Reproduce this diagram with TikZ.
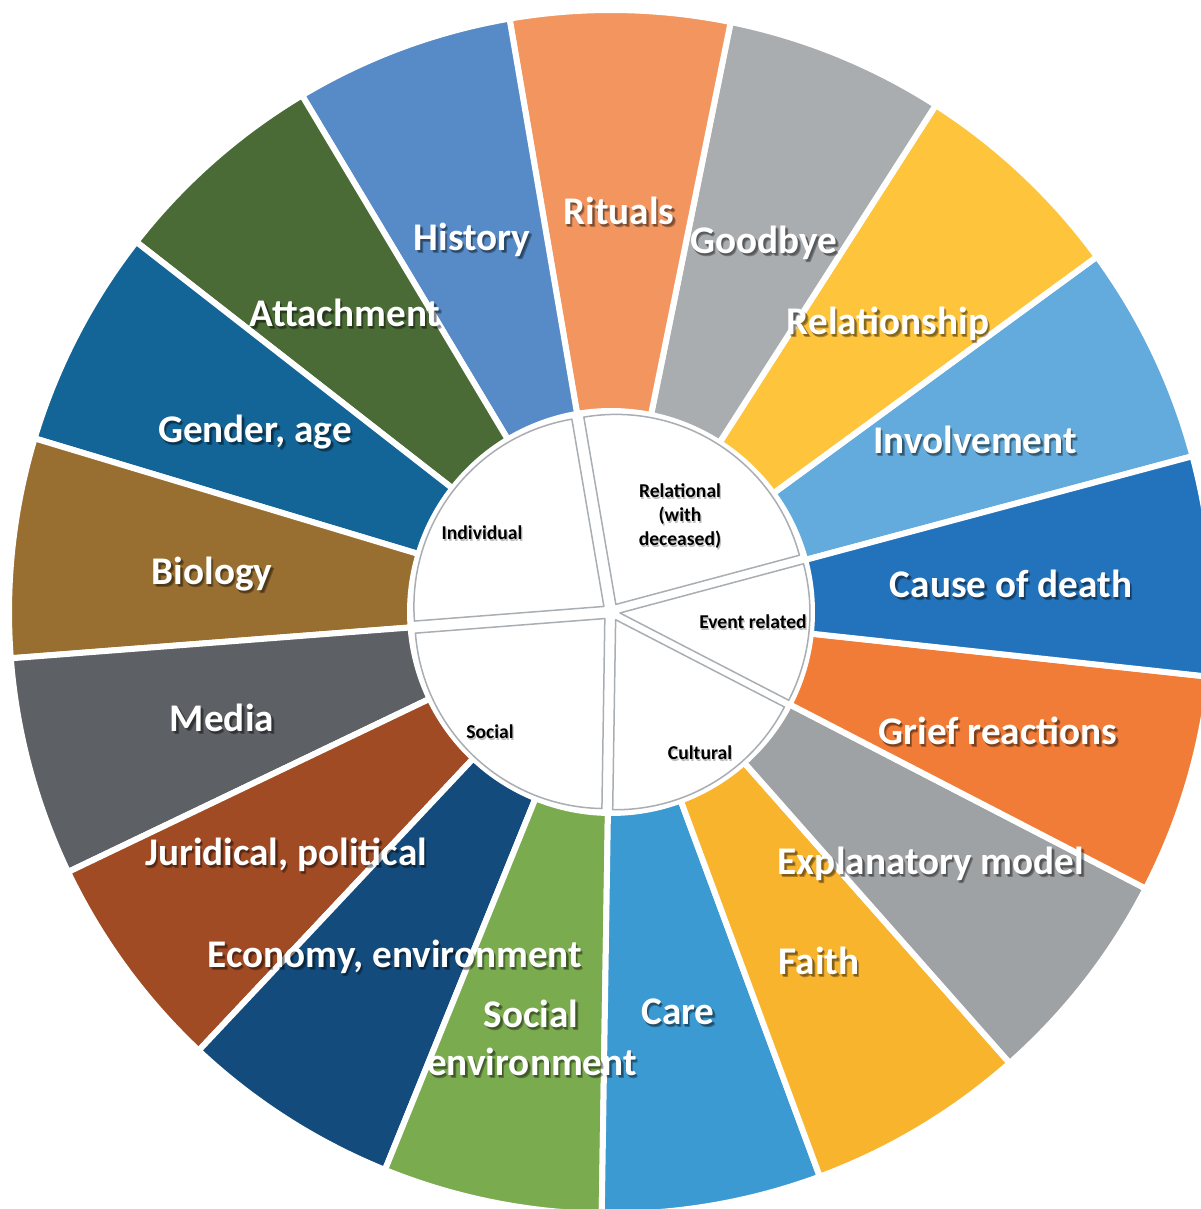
\documentclass[tikz,border=0pt]{standalone}
\usepackage{fontspec}
\setmainfont{Carlito}
\definecolor{cInv}{HTML}{63ABDC}
\definecolor{cRel}{HTML}{FEC43C}
\definecolor{cGood}{HTML}{A9ADB0}
\definecolor{cRit}{HTML}{F2955F}
\definecolor{cHist}{HTML}{568BC7}
\definecolor{cAtt}{HTML}{4A6A36}
\definecolor{cGen}{HTML}{136497}
\definecolor{cBio}{HTML}{986F30}
\definecolor{cMed}{HTML}{5D6165}
\definecolor{cJur}{HTML}{A04B24}
\definecolor{cEco}{HTML}{134B7C}
\definecolor{cSoc}{HTML}{7AAB4F}
\definecolor{cCare}{HTML}{3C9AD2}
\definecolor{cFaith}{HTML}{F9B42E}
\definecolor{cExp}{HTML}{9FA2A5}
\definecolor{cGrief}{HTML}{F17C37}
\definecolor{cCause}{HTML}{2373BC}
\definecolor{cRim}{HTML}{A9AEB3}
\newcommand\shd[1]{\leavevmode\rlap{\kern1.2pt\raisebox{-1.2pt}{\pgfsetfillopacity{0.3}\textcolor{black}{#1}\pgfsetfillopacity{1}}}\rlap{\kern0.7pt\raisebox{-0.7pt}{\pgfsetfillopacity{0.25}\textcolor{black}{#1}\pgfsetfillopacity{1}}}#1}
\newcommand\shdi[1]{\leavevmode\rlap{\kern0.6pt\raisebox{-0.6pt}{\textcolor{black!25}{#1}}}#1}
\tikzset{
  seglabel/.style={anchor=base, text=white, inner sep=0pt, font=\bfseries\fontsize{19.6}{24}\selectfont},
  inlabel/.style={anchor=base, text=black, inner sep=0pt, font=\bfseries\fontsize{9.8}{12}\selectfont},
  seg/.style={draw=white, line width=3pt, line join=miter},
  insec/.style={fill=white, draw=cRim, line width=0.75pt, line join=round}
}
\begin{document}
\begin{tikzpicture}[x=0.5pt,y=0.5pt]
\useasboundingbox (0,0) rectangle (1200,1209);
\begin{scope}[shift={(611,597)}]
\foreach \k/\col in {0/cInv,1/cRel,2/cGood,3/cRit,4/cHist,5/cAtt,6/cGen,7/cBio,8/cMed,9/cJur,10/cEco,11/cSoc,12/cCare,13/cFaith,14/cExp,15/cGrief,16/cCause}{
  \pgfmathsetmacro\a{15+\k*360/17}
  \pgfmathsetmacro\b{\a+360/17}
  \path[seg, fill=\col] (\a:201) -- (\a:602) arc[start angle=\a, end angle=\b, radius=602] -- (\b:201) arc[start angle=\b, end angle=\a, radius=201] -- cycle;
}
\foreach \a/\b in {15/99.706, 99.706/184.412, 184.412/269.118, 269.118/332.647, 332.647/375}{
  \pgfmathsetmacro\m{(\a+\b)/2}
  \path[insec] (\m:9) -- ++(\a:190) arc[start angle=\a, end angle=\b, radius=190] -- cycle;
}
\end{scope}
% outer labels (x, 1209 - baseline)
\node[seglabel] (lHist) at (472, 1209-251) {\shd{History}};
\node[seglabel] (lRit) at (619, 1209-225) {\shd{Rituals}};
\node[seglabel] (lGood) at (764, 1209-254) {\shd{Goodbye}};
\node[seglabel] (lRel) at (888, 1209-335) {\shd{Relationship}};
\node[seglabel] (lAtt) at (345, 1209-327) {\shd{Attachment}};
\node[seglabel] (lInv) at (975, 1209-454) {\shd{Involvement}};
\node[seglabel] (lGen) at (255, 1209-443) {\shd{Gender, age}};
\node[seglabel] (lCause) at (1011, 1209-598) {\shd{Cause of death}};
\node[seglabel] (lBio) at (212, 1209-585) {\shd{Biology}};
\node[seglabel] (lGrief) at (998, 1209-745) {\shd{Grief reactions}};
\node[seglabel] (lMed) at (222, 1209-732) {\shd{Media}};
\node[seglabel] (lExp) at (931, 1209-875) {\shd{Explanatory model}};
\node[seglabel] (lJur) at (286, 1209-866) {\shd{Juridical, political}};
\node[seglabel] (lFaith) at (819, 1209-975) {\shd{Faith}};
\node[seglabel] (lEco) at (395, 1209-968) {\shd{Economy, environment}};
\node[seglabel] (lCare) at (678, 1209-1025) {\shd{Care}};
\node[seglabel] (lSocA) at (531, 1209-1028) {\shd{Social}};
\node[seglabel] (lSocB) at (532, 1209-1076) {\shd{environment}};
% inner labels
\node[inlabel] (iInd) at (482, 1209-540) {\shdi{Individual}};
\node[inlabel] (iRelA) at (680, 1209-498) {\shdi{Relational}};
\node[inlabel] (iRelB) at (680, 1209-522) {\shdi{(with}};
\node[inlabel] (iRelC) at (680, 1209-546) {\shdi{deceased)}};
\node[inlabel] (iEvt) at (753, 1209-629) {\shdi{Event related}};
\node[inlabel] (iSoc) at (490, 1209-739) {\shdi{Social}};
\node[inlabel] (iCul) at (700, 1209-760) {\shdi{Cultural}};
\end{tikzpicture}
\end{document}
